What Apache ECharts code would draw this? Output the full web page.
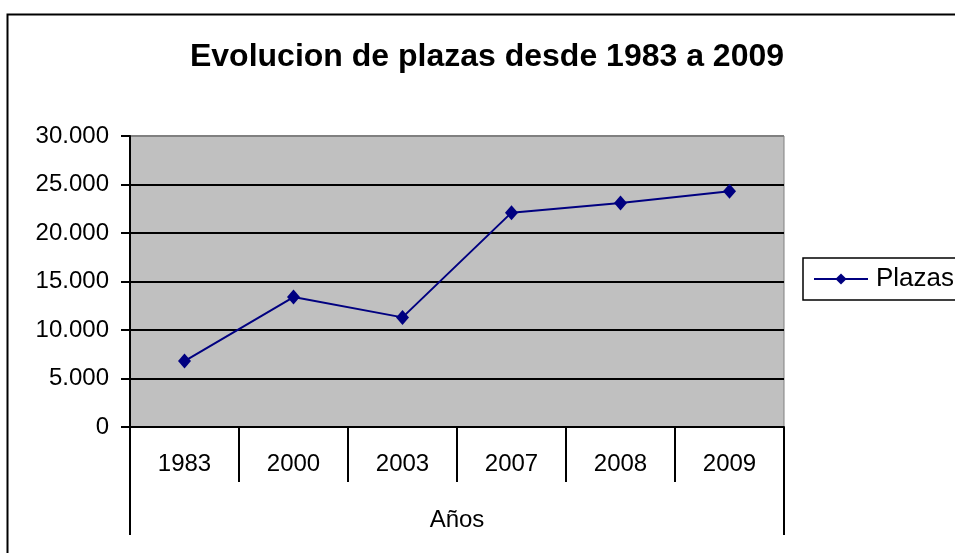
<!DOCTYPE html>
<html>
<head>
<meta charset="utf-8">
<script src="https://cdn.jsdelivr.net/npm/echarts@6/dist/echarts.min.js"></script>
<style>
html,body{margin:0;padding:0;background:#fff;}
#chart{width:955px;height:553px;}
</style>
</head>
<body>
<div id="chart"></div>
<script>
const titleText = 'Evolucion de plazas desde 1983 a 2009';
const categories = ['1983', '2000', '2003', '2007', '2008', '2009'];
const plazas = [6800, 13400, 11300, 22100, 23100, 24300];
const seriesName = 'Plazas';
const outerAxisCategories = ['Años'];
const yMin = 0, yMax = 30000, yStep = 5000;

const FONT = '"Liberation Sans", Arial, sans-serif';
const chart = echarts.init(document.getElementById('chart'), null, {renderer: 'canvas'});

function fmt(v) {
  return String(v).replace(/\B(?=(\d{3})+(?!\d))/g, '.');
}

chart.setOption({
  backgroundColor: '#ffffff',
  animation: false,
  title: {
    text: titleText,
    left: 482,
    textAlign: 'center',
    top: 36,
    textStyle: {fontFamily: FONT, fontSize: 32, fontWeight: 'bold', color: '#000'}
  },
  graphic: [{
    type: 'rect',
    left: 5, top: 12,
    shape: {width: 1000, height: 600},
    style: {fill: 'none', stroke: '#000', lineWidth: 2},
    silent: true, z: 100
  }],
  legend: {
    data: [seriesName],
    left: 803,
    top: 258,
    orient: 'vertical',
    padding: [8, 8, 8, 10],
    borderColor: '#000',
    borderWidth: 1.5,
    itemWidth: 54,
    itemHeight: 14,
    textStyle: {fontFamily: FONT, fontSize: 26, color: '#000', padding: [0, 0, 0, 3]}
  },
  grid: {
    left: 130, right: 171, top: 136, bottom: 126,
    show: true,
    backgroundColor: '#C0C0C0',
    borderColor: '#808080',
    borderWidth: 1
  },
  xAxis: [{
    type: 'category',
    data: categories,
    boundaryGap: true,
    axisLine: {lineStyle: {color: '#000', width: 2}},
    axisTick: {show: true, interval: 0, length: 55, lineStyle: {color: '#000', width: 2}},
    axisLabel: {interval: 0, margin: 25, fontFamily: FONT, fontSize: 24, color: '#000'}
  }, {
    type: 'category',
    data: outerAxisCategories,
    position: 'bottom',
    offset: 55,
    boundaryGap: true,
    axisLine: {show: false},
    axisTick: {show: true, interval: 0, length: 53, lineStyle: {color: '#000', width: 2}},
    axisLabel: {interval: 0, margin: 26, fontFamily: FONT, fontSize: 24, color: '#000'}
  }],
  yAxis: {
    type: 'value',
    min: yMin, max: yMax, interval: yStep,
    axisLine: {show: true, lineStyle: {color: '#000', width: 2}},
    axisTick: {show: true, length: 9, lineStyle: {color: '#000', width: 2}},
    axisLabel: {margin: 21, fontFamily: FONT, fontSize: 24, color: '#000', formatter: fmt},
    splitLine: {show: true, lineStyle: {color: ['#000', '#000', '#000', '#000', '#000', '#000', '#808080'], width: 2}}
  },
  series: [{
    name: seriesName,
    type: 'line',
    xAxisIndex: 0,
    data: plazas,
    symbol: 'diamond',
    symbolSize: [13, 15],
    lineStyle: {color: '#000080', width: 2},
    itemStyle: {color: '#000080'}
  }]
});
</script>
</body>
</html>
